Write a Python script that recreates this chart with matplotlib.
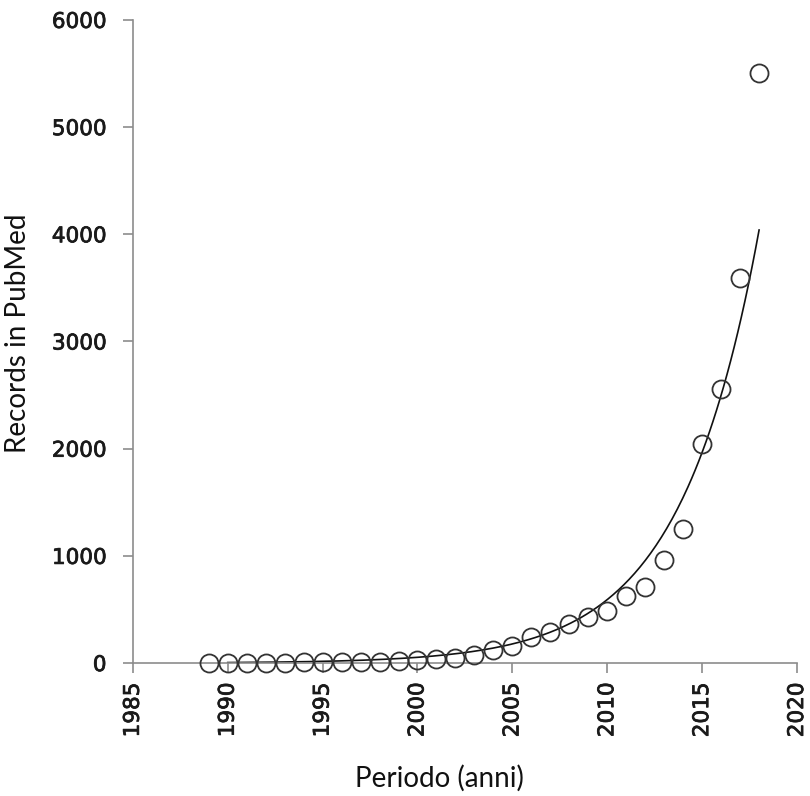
import numpy as np
import matplotlib
matplotlib.use("Agg")
import matplotlib.pyplot as plt
import matplotlib.patheffects as pe

years = [1989, 1990, 1991, 1992, 1993, 1994, 1995, 1996, 1997, 1998,
         1999, 2000, 2001, 2002, 2003, 2004, 2005, 2006, 2007, 2008,
         2009, 2010, 2011, 2012, 2013, 2014, 2015, 2016, 2017, 2018]
records = [0, 2, 3, 4, 5, 6, 8, 10, 12, 14,
           18, 28, 40, 50, 75, 120, 160, 240, 290, 365,
           430, 485, 625, 705, 960, 1250, 2043, 2560, 3595, 5505]

# exponential trend line (as drawn in the reference)
trend_start, trend_end = 1990, 2018
trend_value_end = 4040
trend_rate = 0.24

x_ticks = [1985, 1990, 1995, 2000, 2005, 2010, 2015, 2020]
y_ticks = [0, 1000, 2000, 3000, 4000, 5000, 6000]

fig = plt.figure(figsize=(8.1, 7.96), dpi=100)
ax = fig.add_axes([0.164, 0.167, 0.820, 0.808])

tx = np.linspace(trend_start, trend_end, 300)
ty = trend_value_end * np.exp(trend_rate * (tx - trend_end))
ax.plot(tx, ty, color="#111111", lw=1.2, zorder=2)

ax.plot(years, records, linestyle="none", marker="o", markersize=13,
        markerfacecolor="none", markeredgecolor="#333333", markeredgewidth=1.3,
        zorder=3, clip_on=False)

ax.set_xlim(1985, 2020)
ax.set_ylim(0, 6000)
ax.set_xticks(x_ticks)
ax.set_yticks(y_ticks)

for s in ["top", "right"]:
    ax.spines[s].set_visible(False)
for s in ["left", "bottom"]:
    ax.spines[s].set_color("#8c8c8c")
    ax.spines[s].set_linewidth(1.2)

ax.tick_params(axis="both", direction="out", length=7, width=1.2, color="#8c8c8c",
               labelcolor="#1a1a1a")
ax.tick_params(axis="x", pad=7)
ax.tick_params(axis="y", pad=12)
thick = [pe.withStroke(linewidth=0.55, foreground="#1a1a1a")]
for lab in ax.get_xticklabels():
    lab.set_rotation(90)
    lab.set_fontsize(15.5)
    lab.set_family("DejaVu Sans")
    lab.set_path_effects(thick)
for lab in ax.get_yticklabels():
    lab.set_fontsize(15.5)
    lab.set_family("DejaVu Sans")
    lab.set_path_effects(thick)

fig.text(439 / 810, 1 - 778 / 796, "Periodo (anni)", fontsize=20, family="Lato",
         color="#111111", ha="center", va="center")
fig.text(18.5 / 810, 1 - 333.5 / 796, "Records in PubMed", fontsize=20, family="Lato",
         color="#111111", ha="center", va="center", rotation=90)

fig.savefig("out.png", dpi=100)
